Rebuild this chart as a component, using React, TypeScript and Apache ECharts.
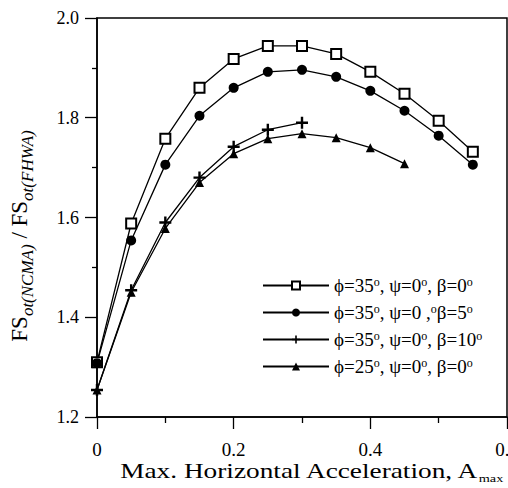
import React, { useEffect, useRef } from "react";
import * as echarts from "echarts";

const xValues = [0, 0.05, 0.1, 0.15, 0.2, 0.25, 0.3, 0.35, 0.4, 0.45, 0.5, 0.55];
const seriesNames = [
  "ϕ=35°, ψ=0°, β=0°",
  "ϕ=35°, ψ=0 ,°β=5°",
  "ϕ=35°, ψ=0°, β=10°",
  "ϕ=25°, ψ=0°, β=0°",
];
const squareValues = [1.31, 1.588, 1.758, 1.86, 1.918, 1.944, 1.944, 1.928, 1.892, 1.848, 1.794, 1.732];
const circleValues = [1.308, 1.554, 1.706, 1.804, 1.86, 1.892, 1.896, 1.882, 1.854, 1.814, 1.764, 1.706];
const plusValues = [1.254, 1.454, 1.59, 1.68, 1.742, 1.776, 1.79];
const triangleValues = [1.254, 1.45, 1.578, 1.67, 1.728, 1.758, 1.768, 1.76, 1.74, 1.708];
const xTitle = "Max. Horizontal Acceleration, A";
const xTitleSub = "max";
const yTitleParts = ["FS", "ot(NCMA)", " / FS", "ot(FHWA)"];

const FONT = "'Liberation Serif', 'Times New Roman', serif";
const PLUS = "path://M4,0h2v4h4v2h-4v4h-2v-4h-4v-2h4z";

function pairs(vals: number[]) {
  return vals.map((v, i) => [xValues[i], v]);
}

export default function App() {
  const ref = useRef<HTMLDivElement>(null);
  useEffect(() => {
    document.body.style.margin = "0";
    const chart = echarts.init(ref.current!, null, { renderer: "svg" });
    const lineStyle = { color: "#000", width: 1.3 };
    chart.setOption({
      animation: false,
      backgroundColor: "#fff",
      textStyle: { fontFamily: FONT, color: "#000" },
      grid: {
        left: 97,
        right: 1,
        top: 18,
        bottom: 71,
        containLabel: false,
        outerBoundsMode: "none",
        show: true,
        borderColor: "#000",
        borderWidth: 1.5,
        backgroundColor: "transparent",
      },
      graphic: [
        {
          type: "text",
          x: 311,
          y: 472,
          scaleX: 1.3,
          style: {
            text: "{m|" + xTitle + "}{sub|" + xTitleSub + "}",
            align: "center",
            verticalAlign: "middle",
            fill: "#000",
            rich: {
              m: { fontSize: 21, fontFamily: FONT, fill: "#000", lineHeight: 24, verticalAlign: "top" },
              sub: { fontSize: 11, fontFamily: FONT, fill: "#000", verticalAlign: "bottom" },
            },
          },
        },
        {
          type: "text",
          x: 22,
          y: 236,
          rotation: Math.PI / 2,
          style: {
            text:
              "{m|" + yTitleParts[0] + "}{sub|" + yTitleParts[1] + "}{m|" + yTitleParts[2] + "}{sub|" + yTitleParts[3] + "}",
            align: "center",
            verticalAlign: "middle",
            fill: "#000",
            rich: {
              m: { fontSize: 23, fontFamily: FONT, fill: "#000", lineHeight: 28, verticalAlign: "top" },
              sub: { fontSize: 17, fontFamily: FONT, fontStyle: "italic", fill: "#000", verticalAlign: "bottom" },
            },
          },
        },
      ],
      legend: {
        orient: "vertical",
        left: 262,
        top: 276,
        padding: 0,
        itemWidth: 66,
        itemHeight: 10,
        itemGap: 8,
        data: seriesNames,
        textStyle: {
          fontFamily: FONT,
          fontSize: 19,
          color: "#000",
          rich: {
            s: { fontSize: 12, fontFamily: FONT, verticalAlign: "top", padding: [0, 0, 6, 0], color: "#000" },
          },
        },
        formatter: (name: string) => name.replace(/°/g, "{s|o}"),
      },
      xAxis: {
        type: "value",
        min: 0,
        max: 0.6,
        interval: 0.2,
        axisLine: { lineStyle: { color: "#000", width: 1.5 } },
        axisTick: { show: true, inside: false, length: 12, lineStyle: { color: "#000", width: 1.3 } },
        minorTick: { show: true, splitNumber: 2, length: 6, lineStyle: { color: "#000", width: 1.3 } },
        splitLine: { show: false },
        axisLabel: {
          fontSize: 19,
          fontFamily: FONT,
          color: "#000",
          margin: 23,
          showMaxLabel: true,
          hideOverlap: false,
          formatter: (v: number) => (v === 0 ? "0" : v.toFixed(1)),
        },
      },
      yAxis: {
        type: "value",
        min: 1.2,
        max: 2.0,
        interval: 0.2,
        axisLine: { lineStyle: { color: "#000", width: 1.5 } },
        axisTick: { show: true, inside: false, length: 12, lineStyle: { color: "#000", width: 1.3 } },
        minorTick: { show: true, splitNumber: 2, length: 5, lineStyle: { color: "#000", width: 1.3 } },
        splitLine: { show: false },
        axisLabel: {
          fontSize: 18,
          fontFamily: FONT,
          color: "#000",
          margin: 18,
          formatter: (v: number) => v.toFixed(1),
        },
      },
      series: [
        {
          name: seriesNames[0],
          type: "line",
          data: pairs(squareValues),
          symbol: "emptyRect",
          symbolSize: 10,
          lineStyle,
          itemStyle: { color: "#000", borderColor: "#000", borderWidth: 1.1 },
        },
        {
          name: seriesNames[1],
          type: "line",
          data: pairs(circleValues),
          symbol: "circle",
          symbolSize: 10,
          lineStyle,
          itemStyle: { color: "#000" },
        },
        {
          name: seriesNames[2],
          type: "line",
          data: pairs(plusValues),
          symbol: PLUS,
          symbolSize: 12,
          lineStyle,
          itemStyle: { color: "#000" },
        },
        {
          name: seriesNames[3],
          type: "line",
          data: pairs(triangleValues),
          symbol: "triangle",
          symbolSize: 9,
          lineStyle,
          itemStyle: { color: "#000" },
        },
      ],
    });
    return () => chart.dispose();
  }, []);
  return <div ref={ref} style={{ width: 508, height: 488 }} />;
}
